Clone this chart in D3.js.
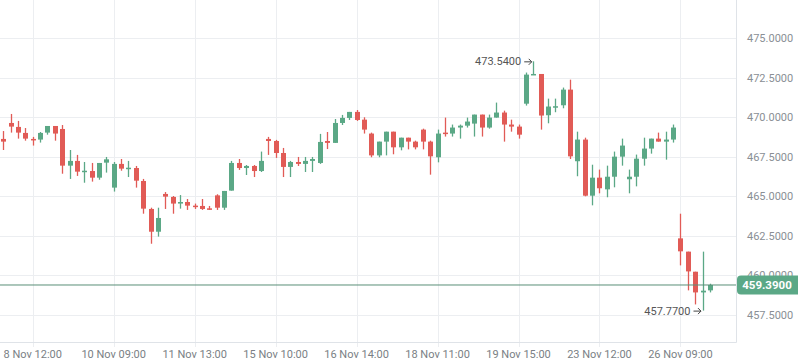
<!DOCTYPE html>
<html>
<head>
<meta charset="utf-8">
<script src="https://cdn.jsdelivr.net/npm/d3@7/dist/d3.min.js"></script>
<style>
  html, body { margin: 0; padding: 0; background: #fff; }
  svg { display: block; font-family: Roboto, "Noto Sans", sans-serif; }
</style>
</head>
<body>
<svg id="chart" width="798" height="363"></svg>
<script>
// hourly candles
var opens  = [468.63,469.64,469.39,469.01,468.63,468.59,469.03,469.45,469.26,466.94,
              467.24,466.56,466.60,466.18,467.13,465.55,467.05,466.75,466.79,465.97,
              464.20,462.76,465.15,464.96,464.54,464.64,464.41,464.39,464.24,465.06,
              464.28,465.36,467.11,466.79,466.92,466.60,468.63,468.50,467.74,466.86,
              467.17,467.05,467.24,467.11,468.50,468.38,469.64,469.96,470.34,469.85,
              468.97,467.59,468.46,469.09,468.10,468.71,468.46,469.22,468.46,467.47,
              469.03,468.97,469.35,469.47,469.60,470.17,469.35,469.98,470.30,469.54,
              469.41,470.86,472.68,472.74,470.13,470.63,470.76,471.75,467.22,468.59,
              465.04,466.18,465.44,466.24,467.51,466.08,466.24,467.38,468.02,468.65,
              468.46,468.59,462.34,461.50,460.23,458.92,459.05];
var highs  = [469.13,470.21,469.77,469.32,468.76,469.07,469.45,469.45,469.51,467.93,
              467.62,467.17,467.11,467.11,467.49,467.17,467.36,467.24,466.92,466.10,
              464.28,464.28,465.27,465.02,465.08,464.83,464.54,464.83,464.39,465.13,
              465.34,467.24,467.36,466.98,466.98,467.83,468.76,468.57,468.06,467.24,
              467.49,467.49,467.49,468.95,469.07,469.89,470.15,470.34,470.46,470.00,
              469.03,468.46,469.09,469.09,468.71,468.71,468.52,469.28,468.52,469.22,
              469.98,469.54,469.54,469.98,470.17,470.17,470.17,470.93,470.42,469.85,
              469.54,472.83,473.54,472.74,471.18,471.18,471.88,472.38,469.09,468.71,
              467.00,466.69,466.94,467.83,468.65,466.69,467.64,468.71,468.65,469.03,
              469.09,469.54,463.90,461.50,460.23,461.50,459.47];
var lows   = [467.93,469.03,468.65,468.52,468.21,468.40,468.90,468.52,466.43,466.10,
              466.29,465.86,465.93,466.05,466.50,465.30,466.62,466.22,465.55,463.90,
              462.00,462.45,464.20,463.90,464.22,464.14,464.20,464.14,464.14,464.14,
              464.14,465.36,466.67,466.35,466.22,466.54,467.62,467.43,466.22,466.22,
              466.92,466.54,466.54,467.05,467.99,468.38,469.51,469.83,469.77,468.97,
              467.47,467.47,467.59,467.66,467.91,467.97,467.97,467.97,466.37,467.15,
              468.78,468.78,468.65,469.35,468.78,468.78,469.28,469.98,468.46,469.09,
              468.65,470.74,472.68,469.22,469.62,470.32,470.57,467.36,466.27,465.00,
              464.43,465.19,464.94,465.57,466.94,465.19,465.63,466.94,467.70,468.46,
              467.32,468.40,460.63,459.05,458.16,457.77,458.92];
var closes = [468.46,469.41,469.03,468.65,468.59,469.01,469.45,468.97,466.94,467.24,
              466.56,466.62,466.18,467.11,467.34,467.05,466.75,466.81,465.99,464.22,
              462.76,463.63,464.98,464.54,464.64,464.41,464.35,464.20,464.18,464.28,
              465.34,467.11,466.79,466.92,466.60,467.24,468.50,467.74,466.86,467.17,
              467.05,467.24,467.36,468.44,468.38,469.64,469.96,470.34,469.83,469.22,
              467.59,468.46,469.09,468.10,468.71,468.46,468.10,468.46,467.53,468.97,
              468.97,469.35,469.47,469.73,470.17,469.35,469.98,470.30,469.54,469.41,
              468.90,472.70,472.74,470.11,470.68,470.70,471.75,467.53,468.59,465.04,
              466.18,465.51,466.24,467.51,468.21,466.24,467.38,468.02,468.65,468.46,
              468.59,469.35,461.52,460.25,458.92,459.03,459.39];

var tickIndex  = [4, 15, 26, 37, 48, 59, 70, 81, 92];
var tickLabels = ["8 Nov 12:00", "10 Nov 09:00", "11 Nov 13:00", "15 Nov 10:00", "16 Nov 14:00",
                  "18 Nov 11:00", "19 Nov 15:00", "23 Nov 12:00", "26 Nov 09:00"];
var priceTicks = [457.5, 460, 462.5, 465, 467.5, 470, 472.5, 475];
var lastPrice = 459.39;
var maxIdx = 72, maxVal = 473.54;
var minIdx = 95, minVal = 457.77;

var up = "#5ba886", down = "#e15b56";
var plotW = 736, plotH = 342;

var svg = d3.select("#chart");

var x = d3.scaleLinear().domain([-0.45, 99.55]).range([0, plotW]);
var y = d3.scaleLinear().domain([455.72, 477.42]).range([343, 0]);

// grid
svg.append("g").selectAll("line.hg")
   .data(priceTicks).enter().append("line")
   .attr("x1", 0).attr("x2", plotW)
   .attr("y1", function(d) { return Math.round(y(d)) + 0.5; })
   .attr("y2", function(d) { return Math.round(y(d)) + 0.5; })
   .attr("stroke", "#eceef1");

svg.append("g").selectAll("line.vg")
   .data(tickIndex).enter().append("line")
   .attr("x1", function(d) { return Math.round(x(d)) + 0.5; })
   .attr("x2", function(d) { return Math.round(x(d)) + 0.5; })
   .attr("y1", 0).attr("y2", plotH + 5)
   .attr("stroke", "#eceef1");

// axes lines
svg.append("line").attr("x1", 0).attr("x2", plotW + 0.5)
   .attr("y1", plotH + 0.5).attr("y2", plotH + 0.5).attr("stroke", "#dfe3e8");
svg.append("line").attr("x1", plotW + 0.5).attr("x2", plotW + 0.5)
   .attr("y1", 0).attr("y2", plotH + 0.5).attr("stroke", "#dfe3e8");

// bottom labels
svg.append("g").selectAll("text")
   .data(tickIndex).enter().append("text")
   .attr("x", function(d) { return x(d); })
   .attr("y", 358)
   .attr("text-anchor", "middle")
   .attr("font-size", 11)
   .attr("fill", "#7a7f85")
   .text(function(d, i) { return tickLabels[i]; });

// right labels (the one under the price badge stays, partly hidden, as in the original)
svg.append("g").selectAll("text")
   .data(priceTicks).enter().append("text")
   .attr("x", 747)
   .attr("y", function(d) { return y(d) + 4; })
   .attr("font-size", 11)
   .attr("fill", "#8a8f95")
   .text(function(d) { return d.toFixed(4); });

// candles
var candles = d3.range(opens.length).map(function(i) {
    return {i: i, o: opens[i], h: highs[i], l: lows[i], c: closes[i]};
});

var g = svg.append("g");
g.selectAll("line.wick")
 .data(candles).enter().append("line")
 .attr("x1", function(d) { return Math.round(x(d.i)) + 0.5; })
 .attr("x2", function(d) { return Math.round(x(d.i)) + 0.5; })
 .attr("y1", function(d) { return y(d.h); })
 .attr("y2", function(d) { return y(d.l); })
 .attr("stroke", function(d) { return d.c >= d.o ? up : down; })
 .attr("stroke-width", 1.3);

g.selectAll("rect.body")
 .data(candles).enter().append("rect")
 .attr("x", function(d) { return Math.round(x(d.i)) - 2; })
 .attr("width", 5)
 .attr("y", function(d) { return y(Math.max(d.o, d.c)); })
 .attr("height", function(d) { return Math.max(1.5, Math.abs(y(d.o) - y(d.c))); })
 .attr("fill", function(d) { return d.c >= d.o ? up : down; });

// last price line + label
svg.append("line")
   .attr("x1", 0).attr("x2", plotW)
   .attr("y1", y(lastPrice)).attr("y2", y(lastPrice))
   .attr("stroke", "#5a8f77").attr("stroke-width", 1);

svg.append("rect")
   .attr("x", 737).attr("y", y(lastPrice) - 9.5)
   .attr("width", 70).attr("height", 19).attr("rx", 4)
   .attr("fill", up);
svg.append("text")
   .attr("x", 767).attr("y", y(lastPrice) + 4)
   .attr("text-anchor", "middle")
   .attr("font-size", 11.5).attr("font-weight", "bold")
   .attr("fill", "#fff")
   .text(lastPrice.toFixed(4));

// extreme annotations: value text plus a small arrow pointing at the wick end
function annotate(idx, val) {
    var px = x(idx), py = y(val);
    svg.append("text")
       .attr("x", px - 12)
       .attr("y", py + 4)
       .attr("text-anchor", "end")
       .attr("font-size", 11)
       .attr("fill", "#555")
       .text(val.toFixed(4));
    svg.append("line")
       .attr("x1", px - 9).attr("x2", px - 1.5)
       .attr("y1", py + 0.5).attr("y2", py + 0.5)
       .attr("stroke", "#444").attr("stroke-width", 1);
    svg.append("path")
       .attr("d", "M" + (px - 4.5) + "," + (py - 2.5) + " L" + (px - 1.5) + "," + (py + 0.5) +
                  " L" + (px - 4.5) + "," + (py + 3.5))
       .attr("fill", "none").attr("stroke", "#444").attr("stroke-width", 1);
}
annotate(maxIdx, maxVal);
annotate(minIdx, minVal);
</script>
</body>
</html>
